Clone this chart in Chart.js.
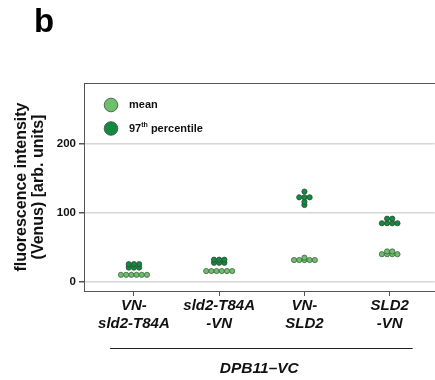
<!DOCTYPE html>
<html><head><meta charset="utf-8">
<script src="https://cdn.jsdelivr.net/npm/chart.js@4.4.1/dist/chart.umd.min.js"></script>
<style>html,body{margin:0;padding:0;background:#fff;overflow:hidden}#wrap{width:435px;height:380px;overflow:hidden}</style>
</head><body>
<div id="wrap"><canvas id="c" width="438" height="380"></canvas></div>
<script>
// ---- data ----
const categories = [["VN-","sld2-T84A"],["sld2-T84A","-VN"],["VN-","SLD2"],["SLD2","-VN"]];
const groupLabel = "DPB11\u2013VC";
const panelLabel = "b";
const yTickValues = [0, 100, 200];
const yTitle = ["fluorescence intensity", "(Venus) [arb. units]"];
const meanLabel = "mean";
const p97Label = "97th percentile";
const meanValues = [
  [10, 10, 10, 10, 10, 10],
  [15.5, 15.5, 15.5, 15.5, 15.5, 15.5],
  [31.5, 31.5, 31.5, 31.5, 31.5, 35],
  [40, 40, 40, 40, 44, 44]
];
const p97Values = [
  [20.5, 20.5, 20.5, 25.5, 25.5, 25.5],
  [27.5, 27.5, 27.5, 32, 32, 32],
  [111.5, 116, 122.7, 122.7, 122.7, 131],
  [85, 85, 85, 85, 91.6, 91.6]
];

// ---- beeswarm ("center" method): points sharing a row are centred on the category ----
const SPACING = 0.061; // x-units between neighbouring dots
function swarm(groups) {
  const pts = [];
  groups.forEach((vals, gi) => {
    const rows = new Map();
    vals.forEach(v => { if (!rows.has(v)) rows.set(v, []); rows.get(v).push(v); });
    rows.forEach((arr, v) => {
      const n = arr.length;
      arr.forEach((_, k) => pts.push({ x: gi + 1 + (k - (n - 1) / 2) * SPACING, y: v }));
    });
  });
  return pts;
}

const FONT = "'Liberation Sans', Arial, Helvetica, sans-serif";
const AX = '#555';

const decor = {
  id: 'decor',
  afterDraw(chart) {
    const ctx = chart.ctx, a = chart.chartArea, xs = chart.scales.x;
    ctx.save();
    // top frame line
    ctx.strokeStyle = AX; ctx.lineWidth = 1;
    ctx.beginPath(); ctx.moveTo(a.left, a.top + 0.5); ctx.lineTo(chart.width, a.top + 0.5); ctx.stroke();
    // separator line above group label
    ctx.strokeStyle = '#222'; ctx.lineWidth = 1;
    const y = 348.5;
    ctx.beginPath(); ctx.moveTo(xs.getPixelForValue(0.72), y); ctx.lineTo(xs.getPixelForValue(4.27), y); ctx.stroke();
    // panel label
    ctx.fillStyle = '#000'; ctx.font = 'bold 33px ' + FONT;
    ctx.textBaseline = 'alphabetic'; ctx.textAlign = 'left';
    ctx.fillText(panelLabel, 34, 32);
    // legend
    const items = chart.data.datasets;
    items.forEach((ds, i) => {
      const cx = 111, cy = 105 + i * 23.5;
      ctx.beginPath(); ctx.arc(cx, cy, 6.8, 0, Math.PI * 2);
      ctx.fillStyle = ds.backgroundColor; ctx.fill();
      ctx.strokeStyle = '#444'; ctx.lineWidth = 0.8; ctx.stroke();
      ctx.fillStyle = '#111'; ctx.textBaseline = 'middle';
      const m = /^(\d+)(th)(.*)$/.exec(ds.label);
      let x = 129;
      if (m) {
        ctx.font = 'bold 11px ' + FONT; ctx.fillText(m[1], x, cy); x += ctx.measureText(m[1]).width;
        ctx.font = 'bold 7px ' + FONT; ctx.fillText(m[2], x, cy - 3.5); x += ctx.measureText(m[2]).width;
        ctx.font = 'bold 11px ' + FONT; ctx.fillText(m[3], x, cy);
      } else {
        ctx.font = 'bold 11px ' + FONT; ctx.fillText(ds.label, x, cy);
      }
    });
    ctx.restore();
  }
};

new Chart(document.getElementById('c'), {
  type: 'scatter',
  data: {
    datasets: [
      { label: meanLabel, data: swarm(meanValues), backgroundColor: '#6dc06a', borderColor: '#3f5f44', borderWidth: 0.8, pointRadius: 2.6, pointHoverRadius: 2.6 },
      { label: p97Label, data: swarm(p97Values), backgroundColor: '#128a40', borderColor: '#2c4a33', borderWidth: 0.8, pointRadius: 2.6, pointHoverRadius: 2.6 }
    ]
  },
  options: {
    responsive: false,
    animation: false,
    events: [],
    layout: { padding: { top: 83, left: 0, right: 0, bottom: 0 } },
    plugins: { legend: { display: false }, tooltip: { enabled: false } },
    scales: {
      x: {
        type: 'linear', min: 0.414, max: 4.527,
        afterBuildTicks: s => { s.ticks = categories.map((c, i) => ({ value: i + 1 })); },
        afterFit: s => { s.height = 89; },
        ticks: {
          autoSkip: false, maxRotation: 0, padding: 1, color: '#111',
          font: { family: FONT, size: 15, weight: 'bold', style: 'italic', lineHeight: 1.2 },
          callback: v => categories[Math.round(v) - 1]
        },
        grid: { drawOnChartArea: false, drawTicks: true, tickLength: 5, tickColor: AX },
        border: { display: true, color: AX, width: 1 },
        title: { display: true, text: groupLabel, color: '#111', font: { family: FONT, size: 15.5, weight: 'bold', style: 'italic', lineHeight: 1.2 }, padding: { top: 0, bottom: 2 } }
      },
      y: {
        type: 'linear', min: -13.5, max: 288.8,
        afterBuildTicks: s => { s.ticks = yTickValues.map(v => ({ value: v })); },
        afterFit: s => { s.width = 84; },
        ticks: { padding: 3, color: '#111', font: { family: FONT, size: 11.5, weight: 'bold' } },
        grid: { color: '#d6d6d6', lineWidth: 1.5, tickColor: AX, tickLength: 5 },
        border: { display: true, color: AX, width: 1 },
        title: { display: true, text: yTitle, color: '#111', font: { family: FONT, size: 16, weight: 'bold', lineHeight: 1.05 }, padding: { top: 13, bottom: 0 } }
      }
    }
  },
  plugins: [decor]
});
</script>
</body></html>
